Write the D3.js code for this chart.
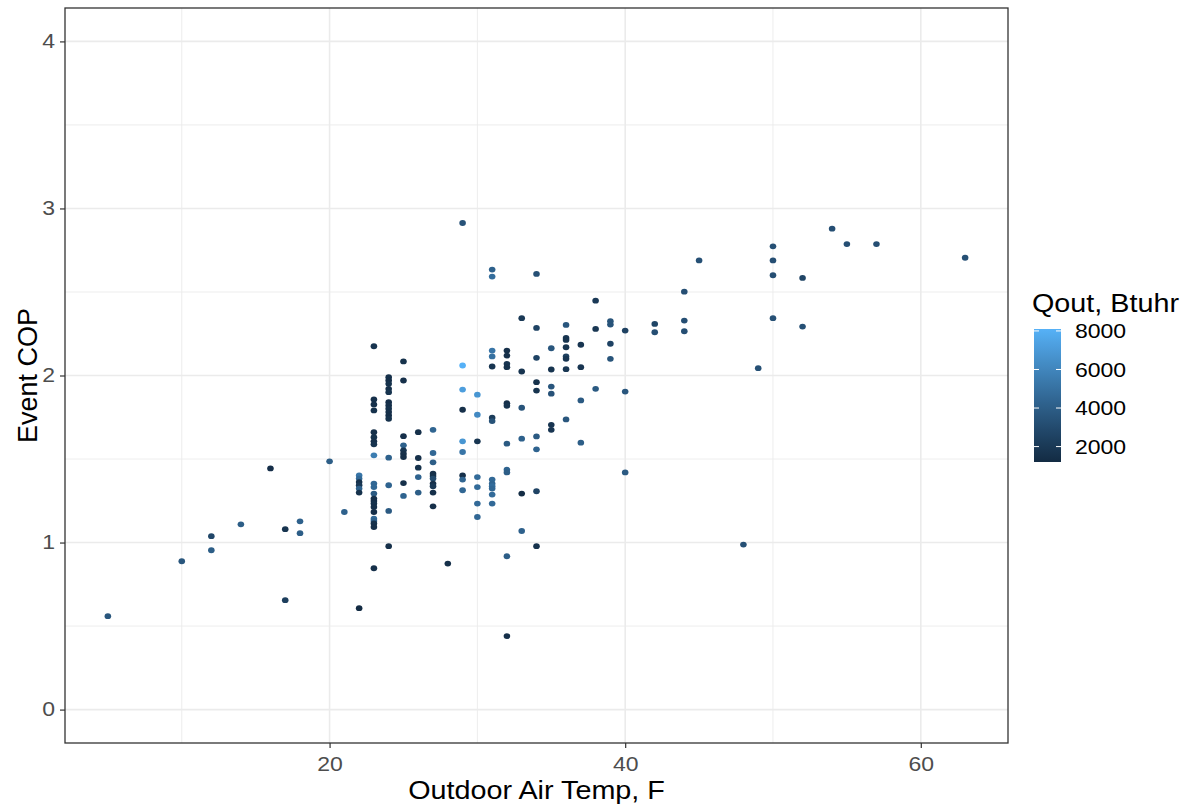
<!DOCTYPE html>
<html>
<head>
<meta charset="utf-8">
<script src="https://cdn.jsdelivr.net/npm/d3@7"></script>
<style>
  html, body { margin: 0; padding: 0; background: #fff; }
  text { font-family: "Liberation Sans", Arial, sans-serif; }
</style>
</head>
<body>
<svg id="chart" width="1188" height="807"></svg>
<script>
// Outdoor air temperature (F)
const temp = [
  5, 10, 12, 12, 14, 16, 17, 17, 18, 18, 20, 21,
  22, 22, 22, 22, 22, 22, 22,
  23, 23, 23, 23, 23, 23, 23, 23, 23, 23, 23, 23, 23, 23, 23, 23, 23, 23, 23, 23, 23, 23,
  24, 24, 24, 24, 24, 24, 24, 24, 24, 24, 24, 24, 24, 24, 24,
  25, 25, 25, 25, 25, 25, 25, 25, 25,
  26, 26, 26, 26, 26,
  27, 27, 27, 27, 27, 27, 27, 27, 27, 27,
  28,
  29, 29, 29, 29, 29, 29, 29, 29, 29,
  30, 30, 30, 30, 30, 30, 30,
  31, 31, 31, 31, 31, 31, 31, 31, 31, 31, 31, 31, 31,
  32, 32, 32, 32, 32, 32, 32, 32, 32, 32, 32,
  33, 33, 33, 33, 33, 33,
  34, 34, 34, 34, 34, 34, 34, 34, 34,
  35, 35, 35, 35, 35, 35,
  36, 36, 36, 36, 36, 36, 36, 36,
  37, 37, 37, 37,
  38, 38, 38,
  39, 39, 39, 39,
  40, 40, 40,
  42, 42,
  44, 44, 44,
  45, 48, 49,
  50, 50, 50, 50,
  52, 52,
  54, 55, 57, 63
];
// Event COP
const cop = [
  0.559, 0.888, 1.038, 0.954, 1.109, 1.444, 1.080, 0.655, 1.127, 1.056, 1.486, 1.183,
  1.402, 1.383, 1.362, 1.343, 1.323, 1.299, 0.607,
  2.175, 1.857, 1.827, 1.791, 1.661, 1.631, 1.606, 1.588, 1.522, 1.353, 1.332, 1.293, 1.263, 1.249, 1.233, 1.213, 1.183, 1.143, 1.129, 1.114, 1.093, 0.846,
  1.990, 1.970, 1.950, 1.920, 1.900, 1.840, 1.821, 1.801, 1.781, 1.761, 1.741, 1.508, 1.343, 1.189, 0.978,
  2.084, 1.970, 1.637, 1.582, 1.552, 1.532, 1.512, 1.356, 1.279,
  1.661, 1.506, 1.448, 1.392, 1.299,
  1.675, 1.536, 1.480, 1.412, 1.398, 1.383, 1.353, 1.337, 1.299, 1.217,
  0.874,
  2.913, 2.060, 1.916, 1.795, 1.606, 1.542, 1.402, 1.377, 1.313,
  1.885, 1.765, 1.606, 1.392, 1.332, 1.233, 1.153,
  2.634, 2.592, 2.149, 2.114, 2.054, 1.747, 1.727, 1.377, 1.353, 1.337, 1.323, 1.287, 1.233,
  2.149, 2.119, 2.070, 2.050, 1.834, 1.819, 1.592, 1.436, 1.420, 0.918, 0.440,
  2.343, 2.024, 1.807, 1.622, 1.293, 1.069,
  2.608, 2.285, 2.106, 1.960, 1.910, 1.635, 1.558, 1.307, 0.978,
  2.163, 2.036, 1.934, 1.891, 1.705, 1.675,
  2.303, 2.225, 2.213, 2.169, 2.114, 2.100, 2.038, 1.737,
  2.184, 2.050, 1.851, 1.598,
  2.448, 2.279, 1.920,
  2.325, 2.305, 2.190, 2.100,
  2.269, 1.904, 1.420,
  2.309, 2.259,
  2.502, 2.329, 2.265,
  2.689, 0.988, 2.044,
  2.773, 2.689, 2.600, 2.343,
  2.584, 2.293,
  2.879, 2.787, 2.787, 2.705
];
// Qout (Btuhr)
const qout = [
  3600, 3600, 2800, 4000, 4000, 1400, 1700, 2300, 4200, 4000, 4000, 4200,
  5200, 4600, 1600, 2000, 4200, 1600, 1200,
  1700, 1500, 1500, 1600, 1500, 1600, 1500, 1700, 5600, 4500, 4500, 3800, 1500, 1400, 1600, 1500, 1400, 4600, 4200, 1600, 1500, 1500,
  1500, 1400, 1600, 1500, 1700, 1400, 1500, 1600, 1500, 1400, 1600, 4200, 4300, 3800, 1500,
  1600, 1500, 1500, 4200, 1800, 1500, 1400, 1500, 4300,
  1500, 1500, 1600, 4300, 4000,
  4400, 4500, 4000, 1500, 1600, 3000, 1500, 2000, 1500, 1500,
  1500,
  3400, 8100, 7200, 1500, 6800, 5200, 1500, 4400, 4500,
  6800, 6200, 1800, 4700, 4700, 4600, 4500,
  4200, 4800, 5200, 5000, 1800, 2200, 3400, 4600, 4400, 4800, 4500, 4700, 4600,
  1500, 1500, 1800, 1600, 1500, 1700, 3800, 4300, 4000, 4000, 1500,
  2000, 1700, 3500, 4200, 1300, 4200,
  3300, 2600, 2600, 1600, 1700, 3800, 4300, 2600, 1600,
  3600, 1700, 3600, 3400, 1800, 1800,
  3600, 1800, 1700, 1700, 2400, 1800, 1900, 3600,
  1800, 1800, 3800, 4000,
  2000, 1900, 3800,
  3500, 3500, 2600, 3500,
  2500, 3600, 3800,
  2700, 3200,
  3200, 3200, 3200,
  3300, 3300, 3300,
  3300, 3200, 3200, 3300,
  2700, 3300,
  3200, 3200, 3200, 3300
];
const xTicks = [20, 40, 60];
const xMinor = [10, 30, 50];
const yTicks = [0, 1, 2, 3, 4];
const yMinor = [0.5, 1.5, 2.5, 3.5];
const legendTicks = [2000, 4000, 6000, 8000];

const data = temp.map((t, i) => ({ t, c: cop[i], q: qout[i] }));

const SX_K = 1.18, TICK_FS = 19.5;     // tick / legend labels
const SX_T = 1.15, TITLE_FS = 25;      // horizontal titles
const YTITLE_FS = 27;

const svg = d3.select("#chart");
const P = { left: 65, right: 1008, top: 8, bottom: 743 };

const x = d3.scaleLinear().domain([2.1, 65.9]).range([P.left, P.right]);
const y = d3.scaleLinear().domain([-0.2, 4.2]).range([P.bottom, P.top]);
const qExt = d3.extent(qout);
const color = d3.scaleLinear().domain(qExt).range(["#132B43", "#56B1F7"]).interpolate(d3.interpolateLab);

svg.append("rect").attr("x", P.left).attr("y", P.top)
  .attr("width", P.right - P.left).attr("height", P.bottom - P.top).attr("fill", "#fff");

const grid = svg.append("g");
grid.selectAll(".vminor").data(xMinor).enter().append("line")
  .attr("x1", d => x(d)).attr("x2", d => x(d)).attr("y1", P.top).attr("y2", P.bottom)
  .attr("stroke", "#EBEBEB").attr("stroke-width", 0.9);
grid.selectAll(".hminor").data(yMinor).enter().append("line")
  .attr("y1", d => y(d)).attr("y2", d => y(d)).attr("x1", P.left).attr("x2", P.right)
  .attr("stroke", "#EBEBEB").attr("stroke-width", 0.9);
grid.selectAll(".vmajor").data(xTicks).enter().append("line")
  .attr("x1", d => x(d)).attr("x2", d => x(d)).attr("y1", P.top).attr("y2", P.bottom)
  .attr("stroke", "#EBEBEB").attr("stroke-width", 1.6);
grid.selectAll(".hmajor").data(yTicks).enter().append("line")
  .attr("y1", d => y(d)).attr("y2", d => y(d)).attr("x1", P.left).attr("x2", P.right)
  .attr("stroke", "#EBEBEB").attr("stroke-width", 1.6);

// points
svg.append("g").selectAll("ellipse").data(data).enter().append("ellipse")
  .attr("cx", d => x(d.t)).attr("cy", d => y(d.c)).attr("rx", 3.3).attr("ry", 2.9)
  .attr("fill", d => color(d.q));

// border
svg.append("rect").attr("x", P.left).attr("y", P.top)
  .attr("width", P.right - P.left).attr("height", P.bottom - P.top)
  .attr("fill", "none").attr("stroke", "#333333").attr("stroke-width", 1.3);

// axes
const xAxis = d3.axisBottom(x).tickValues(xTicks).tickSize(5).tickPadding(9).tickFormat(d3.format("d"));
const gx = svg.append("g").attr("transform", `translate(0,${P.bottom})`).call(xAxis);
gx.select(".domain").remove();
gx.selectAll(".tick line").attr("stroke", "#333333").attr("stroke-width", 1.2);
gx.selectAll(".tick text").attr("fill", "#4D4D4D").style("font-size", TICK_FS + "px")
  .style("font-family", "Liberation Sans, Arial, sans-serif")
  .attr("transform", `scale(${SX_K},1)`);

const yAxis = d3.axisLeft(y).tickValues(yTicks).tickSize(5).tickPadding(5).tickFormat(d3.format("d"));
const gy = svg.append("g").attr("transform", `translate(${P.left},0)`).call(yAxis);
gy.select(".domain").remove();
gy.selectAll(".tick line").attr("stroke", "#333333").attr("stroke-width", 1.2);
gy.selectAll(".tick text").attr("fill", "#4D4D4D").style("font-size", TICK_FS + "px")
  .style("font-family", "Liberation Sans, Arial, sans-serif")
  .attr("x", 0).attr("transform", `translate(-10,0) scale(${SX_K},1)`);

// axis titles
svg.append("text")
  .attr("transform", `translate(${(P.left + P.right) / 2},799) scale(${SX_T},1)`)
  .attr("text-anchor", "middle").style("font-size", TITLE_FS + "px").attr("fill", "#000")
  .text("Outdoor Air Temp, F");
svg.append("text")
  .attr("transform", `translate(37,${(P.top + P.bottom) / 2}) rotate(-90)`)
  .attr("text-anchor", "middle").style("font-size", YTITLE_FS + "px").attr("fill", "#000")
  .text("Event COP");

// legend
const L = { x: 1034, w: 27, top: 329, bottom: 462 };
const lq = d3.scaleLinear().domain(qExt).range([L.bottom, L.top]);
const defs = svg.append("defs");
const grad = defs.append("linearGradient").attr("id", "cbar")
  .attr("x1", 0).attr("y1", 1).attr("x2", 0).attr("y2", 0);
d3.range(0, 1.0001, 0.05).forEach(f => {
  grad.append("stop").attr("offset", f)
    .attr("stop-color", color(qExt[0] + f * (qExt[1] - qExt[0])));
});
svg.append("text").attr("transform", `translate(1032,312) scale(${SX_T},1)`)
  .style("font-size", TITLE_FS + "px").attr("fill", "#000")
  .text("Qout, Btuhr");
svg.append("rect").attr("x", L.x).attr("y", L.top).attr("width", L.w)
  .attr("height", L.bottom - L.top).attr("fill", "url(#cbar)");
const lt = svg.append("g");
legendTicks.forEach(v => {
  lt.append("line").attr("x1", L.x).attr("x2", L.x + 5).attr("y1", lq(v)).attr("y2", lq(v))
    .attr("stroke", "#fff").attr("stroke-width", 1);
  lt.append("line").attr("x1", L.x + L.w - 5).attr("x2", L.x + L.w).attr("y1", lq(v)).attr("y2", lq(v))
    .attr("stroke", "#fff").attr("stroke-width", 1);
  lt.append("text").attr("transform", `translate(1075,${lq(v)}) scale(${SX_K},1)`).attr("dy", "0.36em")
    .style("font-size", TICK_FS + "px").attr("fill", "#000").text(d3.format("d")(v));
});
</script>
</body>
</html>
